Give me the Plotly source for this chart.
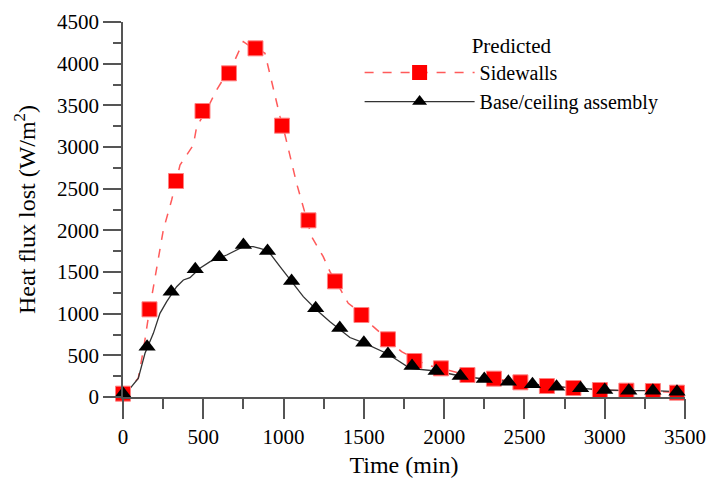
import plotly.graph_objects as go

# Sidewalls: markers
side_t = [0, 165, 330, 495, 660, 825, 990, 1155, 1320, 1485, 1650, 1815, 1980, 2145,
          2310, 2475, 2640, 2805, 2970, 3135, 3300, 3450]
side_v = [40, 1052, 2592, 3432, 3884, 4184, 3256, 2120, 1388, 984, 692, 432, 344, 264,
          220, 176, 132, 108, 84, 76, 72, 52]
# Sidewalls: dense predicted curve
side_line_t = [0, 95, 130, 165, 251, 303, 355, 438, 459, 531, 583, 697, 749, 780, 825,
               884, 978, 1009, 1081, 1175, 1247, 1289, 1362, 1403, 1445, 1559, 1735, 1890,
               1980, 2145, 2310, 2475, 2640, 2805, 2970, 3135, 3300, 3450]
side_line_v = [40, 224, 600, 1050, 2004, 2364, 2784, 3024, 3244, 3484, 3684, 4044, 4264, 4224, 4200,
               4124, 3364, 3144, 2564, 1924, 1684, 1504, 1264, 1124, 1064, 844, 544, 384,
               344, 264, 220, 176, 132, 108, 84, 76, 72, 52]

# Base/ceiling assembly: markers
base_t = [0, 150, 300, 450, 600, 750, 900, 1050, 1200, 1350, 1500, 1650, 1800, 1950,
          2100, 2250, 2400, 2550, 2700, 2850, 3000, 3150, 3300, 3450]
base_v = [40, 604, 1264, 1532, 1676, 1824, 1752, 1392, 1064, 828, 652, 516, 372, 312,
          252, 216, 184, 152, 124, 104, 84, 76, 76, 64]
# Base/ceiling assembly: dense predicted curve
base_line_t = [0, 44, 95, 137, 189, 230, 272, 334, 376, 417, 479, 542, 646, 749, 811, 853,
               904, 978, 1050, 1123, 1206, 1289, 1413, 1496, 1650, 1787, 1950, 2100, 2250,
               2400, 2550, 2700, 2850, 3000, 3150, 3300, 3450]
base_line_v = [0, 104, 224, 524, 764, 1004, 1144, 1324, 1404, 1432, 1544, 1624, 1704, 1804, 1804, 1784,
               1752, 1564, 1384, 1204, 1044, 904, 714, 652, 516, 344, 312, 252, 216,
               184, 152, 124, 104, 84, 76, 76, 64]

x_ticks = [0, 500, 1000, 1500, 2000, 2500, 3000, 3500]
y_ticks = [0, 500, 1000, 1500, 2000, 2500, 3000, 3500, 4000, 4500]

FONT = "Times New Roman, Liberation Serif, serif"
RED = "#ff0000"
RED_LINE = "#ff5a5a"
BLACK_LINE = "#333333"

fig = go.Figure()
fig.add_trace(go.Scatter(x=side_line_t, y=side_line_v, mode="lines",
                         line=dict(color=RED_LINE, width=1.5, dash="dash"),
                         showlegend=False, cliponaxis=False))
fig.add_trace(go.Scatter(x=base_line_t, y=base_line_v, mode="lines",
                         line=dict(color=BLACK_LINE, width=1.3),
                         showlegend=False, cliponaxis=False))
fig.add_trace(go.Scatter(x=side_t, y=side_v, mode="markers",
                         marker=dict(symbol="square", size=15, color=RED,
                                     line=dict(color="#ff8080", width=1)),
                         showlegend=False, cliponaxis=False))
fig.add_trace(go.Scatter(x=base_t, y=base_v, mode="markers",
                         marker=dict(symbol="triangle-up", size=15, color="black"),
                         showlegend=False, cliponaxis=False))
# legend entries
fig.add_trace(go.Scatter(x=[None], y=[None], mode="lines+markers", name="Sidewalls",
                         line=dict(color=RED_LINE, width=1.5, dash="dash"),
                         marker=dict(symbol="square", size=15, color=RED)))
fig.add_trace(go.Scatter(x=[None], y=[None], mode="lines+markers", name="Base/ceiling assembly",
                         line=dict(color=BLACK_LINE, width=1.3),
                         marker=dict(symbol="triangle-up", size=13, color="black")))

axis_common = dict(showline=True, linecolor="#555555", linewidth=1.5, showgrid=False,
                   zeroline=False, ticks="outside", tickcolor="#555555", tickwidth=1.5,
                   automargin=False,
                   tickfont=dict(family=FONT, size=21, color="black"))

fig.update_xaxes(range=[0, 3500], tickvals=x_ticks,
                 ticklen=20,
                 minor=dict(dtick=250, ticklen=10, ticks="outside", tickcolor="#555555", tickwidth=1.5),
                 title=dict(text="Time (min)", font=dict(family=FONT, size=24, color="black")),
                 **axis_common)
fig.update_yaxes(range=[0, 4500], tickvals=y_ticks,
                 ticklen=18,
                 minor=dict(dtick=250, ticklen=8, ticks="outside", tickcolor="#555555", tickwidth=1.5),
                 title=dict(text="Heat flux lost (W/m<sup>2</sup>)", font=dict(family=FONT, size=24, color="black")),
                 **axis_common)

fig.update_layout(
    width=709, height=478,
    margin=dict(l=123, r=24, t=22, b=81),
    plot_bgcolor="white", paper_bgcolor="white",
    legend=dict(x=0.421, y=0.99, xanchor="left", yanchor="top",
                itemwidth=110, bgcolor="rgba(0,0,0,0)",
                font=dict(family=FONT, size=20, color="black"),
                title=dict(text="Predicted", side="top center",
                           font=dict(family=FONT, size=21, color="black")),
                tracegroupgap=0),
)

fig.write_html("out.html")
